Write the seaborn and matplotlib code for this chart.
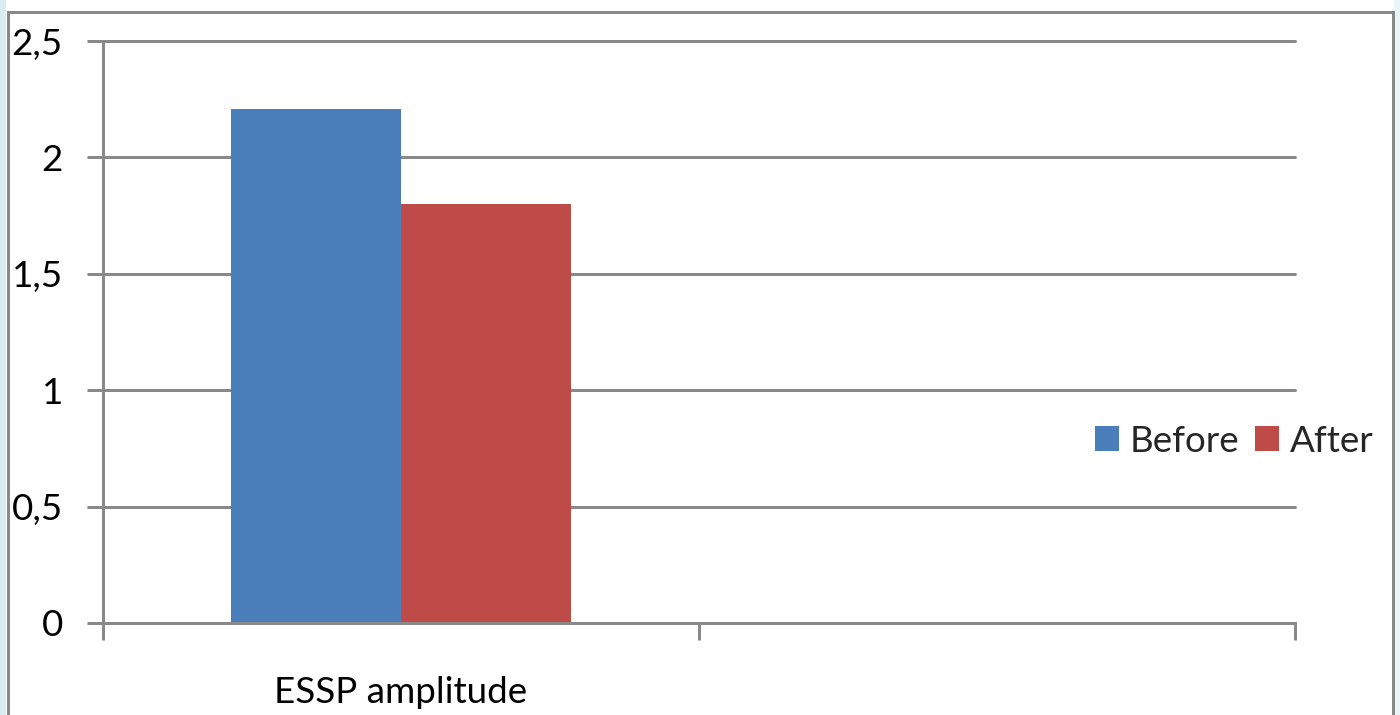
"""
Excel-style grouped bar chart: ESSP amplitude before / after
"""

import pandas as pd
import matplotlib.pyplot as plt
import seaborn as sns
from matplotlib.patches import Rectangle


# Data
categories = ['ESSP amplitude']
series_names = ['Before', 'After']
series_values = [2.21, 1.80]
ytick_values = [0, 0.5, 1, 1.5, 2, 2.5]
ytick_labels = ['0', '0,5', '1', '1,5', '2', '2,5']

# Colours
BLUE = '#4A7EBB'
RED = '#BE4B48'
GRAY = '#898989'

sns.set_theme(style='white')
plt.rcParams['font.family'] = ['Lato', 'DejaVu Sans']

W, H = 1400, 715
fig = plt.figure(figsize=(W / 100, H / 100), dpi=100, facecolor='white')

# Plot area in pixels -> figure fraction
left, right, top, bottom = 102.5, 1295, 41, 623
ax = fig.add_axes([left / W, 1 - bottom / H, (right - left) / W, (bottom - top) / H])
ax.set_facecolor('none')

df = pd.DataFrame({
    'measure': categories * len(series_names),
    'series': series_names,
    'value': series_values,
})

sns.barplot(data=df, x='measure', y='value', hue='series',
            palette=[BLUE, RED], saturation=1, width=0.57, gap=0,
            linewidth=0, edgecolor='none', ax=ax, zorder=2)

fs = 26.5
lw = 2.16  # 3 px

# Axes limits / ticks
ax.set_xlim(-0.5, 1.5)
ax.set_ylim(0, 2.5)
ax.set_yticks(ytick_values)
ax.set_yticklabels(ytick_labels)
ax.set_xticks([-0.5, 0.5, 1.5])
ax.set_xticklabels(['', '', ''])
ax.set_xticks([0], minor=True)
ax.set_xticklabels(categories, minor=True)
ax.set_xlabel('')
ax.set_ylabel('')

ax.tick_params(axis='y', which='major', direction='out', length=11.5, width=lw,
               color=GRAY, pad=17, labelsize=fs, labelcolor='black', left=True)
ax.tick_params(axis='x', which='major', direction='out', length=12.2, width=lw,
               color=GRAY, bottom=True)
ax.tick_params(axis='x', which='minor', length=0, pad=38, labelsize=fs,
               labelcolor='black')

# Gridlines
ax.yaxis.grid(True, color=GRAY, linewidth=lw)
ax.xaxis.grid(False)
ax.set_axisbelow(True)
for line in ax.get_ygridlines():
    line.set_clip_on(False)

# Spines
for side in ['top', 'right']:
    ax.spines[side].set_visible(False)
for side in ['left', 'bottom']:
    ax.spines[side].set_color(GRAY)
    ax.spines[side].set_linewidth(lw)
    ax.spines[side].set_zorder(5)

# Legend
handles, labels = ax.get_legend_handles_labels()
ax.legend(handles, labels, loc='center left',
          bbox_to_anchor=(1095 / W, 1 - 441 / H), bbox_transform=fig.transFigure,
          ncol=2, frameon=False, fontsize=fs, borderpad=0, borderaxespad=0,
          handlelength=0.65, handleheight=0.65, handletextpad=0.28,
          columnspacing=0.45)

# Chart frame and window background strips
fig.patches.append(Rectangle((0, 0), 6 / W, 1, transform=fig.transFigure,
                             facecolor='#d9ecf3', edgecolor='none', zorder=0))
fig.patches.append(Rectangle((1394 / W, 0), 6 / W, 1, transform=fig.transFigure,
                             facecolor='#eaf5f9', edgecolor='none', zorder=0))
fig.patches.append(Rectangle((7.5 / W, -0.05), (1392.5 - 7.5) / W, 1.05 - 11.5 / H,
                             transform=fig.transFigure, facecolor='none',
                             edgecolor=GRAY, linewidth=lw, zorder=1))

plt.savefig('out.png', dpi=100, facecolor='white')
plt.close()
